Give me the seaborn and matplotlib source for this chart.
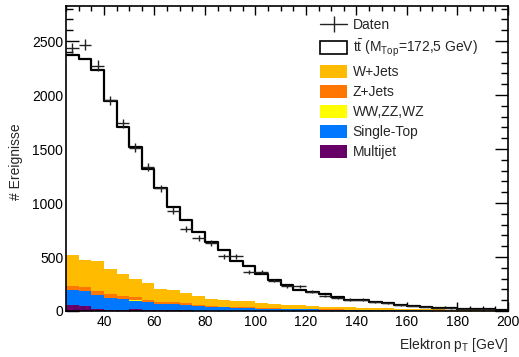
import numpy as np
import pandas as pd
import matplotlib
matplotlib.use("Agg")
import matplotlib.pyplot as plt
import seaborn as sns
from matplotlib.patches import Patch
from matplotlib.lines import Line2D
from matplotlib.ticker import MultipleLocator

# ============================================================
#  Data (5 GeV bins from 25 to 200 GeV)
# ============================================================
bin_edges = list(range(25, 205, 5))
bin_centers = [e + 2.5 for e in bin_edges[:-1]]

ttbar = [1849, 1865, 1773, 1560, 1364, 1222, 1064, 933, 777, 678, 592, 530, 463, 366, 325,
         268, 220, 185, 144, 130, 113, 91, 71, 70, 59, 47, 40, 28, 24, 17, 13, 9, 7, 5, 1]
wjets = [287, 250, 280, 228, 197, 168, 151, 119, 109, 98, 84, 62, 61, 59, 57,
         45, 41, 38, 34, 32, 25, 23, 22, 18, 17, 15, 12, 11, 10, 9, 7, 7, 6, 5, 5]
zjets = [34, 33, 31, 34, 30, 28, 22, 19, 14, 12, 12, 8, 5, 5, 4,
         4, 3, 3, 3, 2, 2, 2, 2, 2, 1, 1, 1, 1, 1, 1, 1, 1, 1, 1, 1]
diboson = [4, 4, 3, 3, 3, 3, 2, 2, 2, 2, 2, 2, 1, 1, 1,
           1, 1, 1, 1, 1, 1, 1, 1, 1, 1, 1, 1, 1, 0, 0, 0, 0, 0, 0, 0]
single_top = [142, 137, 126, 108, 100, 82, 70, 57, 59, 51, 38, 34, 30, 27, 25,
              20, 18, 16, 15, 13, 11, 10, 9, 8, 7, 6, 5, 4, 4, 3, 3, 2, 2, 2, 1]
multijet = [52, 48, 22, 12, 10, 14, 10, 8, 6, 5, 4, 4, 3, 3, 3,
            2, 2, 2, 2, 2, 1, 1, 1, 1, 1, 1, 1, 1, 1, 1, 1, 1, 1, 1, 1]
daten = [2437, 2468, 2273, 1950, 1739, 1513, 1331, 1137, 930, 761, 674, 631, 507, 505, 359,
         359, 282, 227, 227, 180, 137, 119, 106, 106, 84, 70, 58, 50, 40, 30, 26, 21, 18, 14, 10]

processes = ["ttbar", "W+Jets", "Z+Jets", "WW,ZZ,WZ", "Single-Top", "Multijet"]
labels = [r"$\mathregular{t\bar{t}}$ (M$_{\mathregular{Top}}$=172,5 GeV)",
          "W+Jets", "Z+Jets", "WW,ZZ,WZ", "Single-Top", "Multijet"]
colors = {"ttbar": "white", "W+Jets": "#FFBB00", "Z+Jets": "#FF7700",
          "WW,ZZ,WZ": "#FFFF00", "Single-Top": "#0077FF", "Multijet": "#660066"}

values = {"ttbar": ttbar, "W+Jets": wjets, "Z+Jets": zjets, "WW,ZZ,WZ": diboson,
          "Single-Top": single_top, "Multijet": multijet}
df = pd.concat([pd.DataFrame({"pt": bin_centers, "weight": values[p], "process": p})
                for p in processes], ignore_index=True)
total = df.groupby("pt")["weight"].sum().reset_index()

# ============================================================
#  Plot
# ============================================================
sns.set_style("ticks")
plt.rcParams["font.family"] = ["Liberation Sans", "DejaVu Sans"]
plt.rcParams["mathtext.fontset"] = "custom"
plt.rcParams["mathtext.rm"] = "Liberation Sans"
plt.rcParams["mathtext.it"] = "Liberation Sans:italic"

fig = plt.figure(figsize=(5.19, 3.57), dpi=100)
ax = fig.add_axes([66 / 519, 1 - 311 / 357, 442 / 519, 305 / 357])

sns.histplot(data=df, x="pt", weights="weight", hue="process", hue_order=processes,
             multiple="stack", bins=bin_edges, element="step", palette=colors,
             linewidth=0, alpha=1, legend=False, ax=ax)
sns.histplot(data=total, x="pt", weights="weight", bins=bin_edges, element="step",
             fill=False, color="black", linewidth=1.6, ax=ax)

ax.errorbar(bin_centers, daten, xerr=2.5, yerr=np.sqrt(daten), fmt="none",
            ecolor="#222222", elinewidth=1.0)

ax.set_xlim(25, 200)
ax.set_ylim(0, 2825)
ax.xaxis.set_major_locator(MultipleLocator(20))
ax.xaxis.set_minor_locator(MultipleLocator(5))
ax.yaxis.set_major_locator(MultipleLocator(500))
ax.yaxis.set_minor_locator(MultipleLocator(100))
ax.tick_params(axis="both", which="both", direction="in", top=True, right=True,
               labelsize=10, colors="black", width=1.0)
ax.tick_params(axis="x", which="major", length=6.5, pad=3)
ax.tick_params(axis="x", which="minor", length=3.3)
ax.tick_params(axis="y", which="major", length=9.4, pad=2)
ax.tick_params(axis="y", which="minor", length=4.7)
for s in ax.spines.values():
    s.set_linewidth(1.2)
    s.set_color("black")

ax.set_xlabel(r"Elektron p$_{\mathregular{T}}$ [GeV]", fontsize=10)
ax.xaxis.set_label_coords(1.0, -0.083)
ax.xaxis.label.set_horizontalalignment("right")
ax.set_ylabel("# Ereignisse", fontsize=10)
ax.yaxis.set_label_coords(-0.097, 0.49)

daten_handle = Line2D([], [], color="#222222", linewidth=1.0, marker="|",
                      markersize=11, markeredgewidth=1.0)
handles = [daten_handle] + [Patch(facecolor=colors[p],
                                  edgecolor="black" if p == "ttbar" else colors[p],
                                  linewidth=1.2 if p == "ttbar" else 0) for p in processes]
fig.legend(handles, ["Daten"] + labels, loc="upper left", bbox_to_anchor=(320 / 519, 1 - 18 / 357),
           frameon=False, fontsize=10, handlelength=1.95, handleheight=1.05, numpoints=1,
           handletextpad=0.4, labelspacing=0.42, borderpad=0, borderaxespad=0)

fig.savefig("out.png", dpi=100)
